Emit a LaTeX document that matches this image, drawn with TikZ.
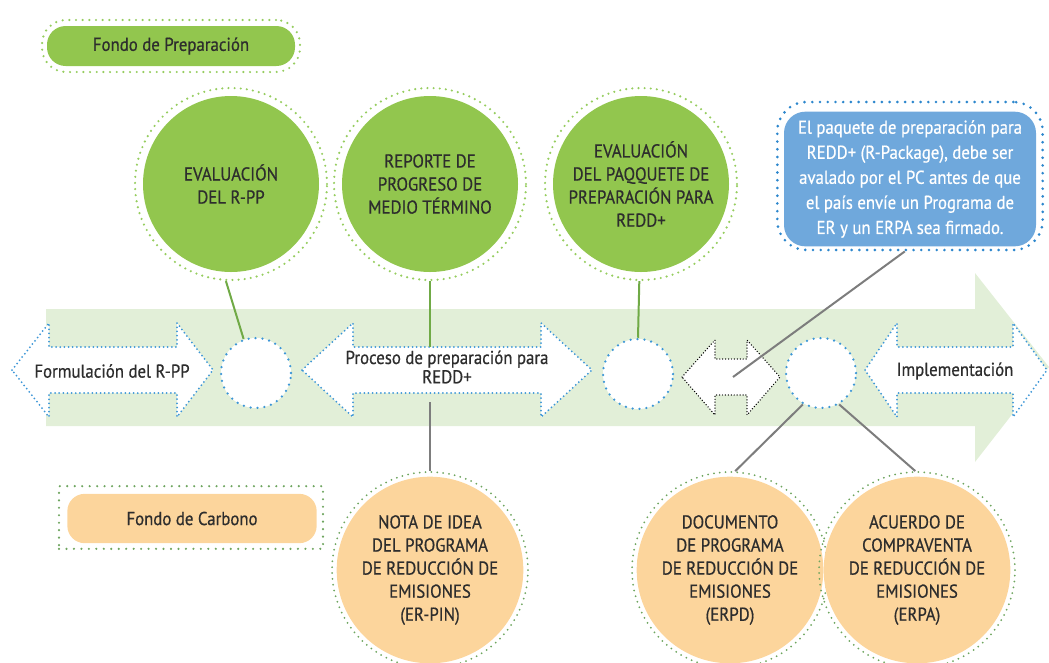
\documentclass[tikz,border=0pt]{standalone}
\usepackage{fontspec}
\setmainfont{PT Sans}[FakeStretch=0.9, FakeBold=0.6]
\definecolor{band}{RGB}{226,239,216}
\definecolor{gfill}{RGB}{146,198,78}
\definecolor{gdots}{RGB}{150,205,95}
\definecolor{ofill}{RGB}{252,213,156}
\definecolor{odots}{RGB}{110,165,95}
\definecolor{bfill}{RGB}{111,168,220}
\definecolor{bdots}{RGB}{45,135,205}
\definecolor{adots}{RGB}{60,150,215}
\definecolor{txtc}{RGB}{45,45,45}
\definecolor{gconn}{RGB}{112,170,70}
\definecolor{kconn}{RGB}{125,125,125}
\tikzset{
  txt/.style={text=txtc, font=\fontsize{14}{17.3}\selectfont, align=center, inner sep=0pt},
  gcirc/.style={circle, fill=gfill, minimum size=132pt, txt},
  gring/.style={circle, draw=gdots, line width=1.8pt, dash pattern=on 0pt off 4.6pt, line cap=round, minimum size=144pt, inner sep=0pt},
  ocirc/.style={circle, fill=ofill, minimum size=140pt, txt},
  oring/.style={circle, draw=odots, line width=1.5pt, dash pattern=on 0pt off 4.4pt, line cap=round, minimum size=147pt, inner sep=0pt},
  scirc/.style={circle, fill=white, draw=adots, line width=1.9pt, dash pattern=on 0pt off 5.2pt, line cap=round, minimum size=52.5pt, inner sep=0pt},
  barrow/.style={fill=white, draw=adots, line width=1.5pt, dash pattern=on 0pt off 3.1pt, line cap=round},
  karrow/.style={fill=white, draw=black, line width=1.1pt, dash pattern=on 0pt off 2.2pt, line cap=round},
  gline/.style={draw=gconn, line width=1.5pt},
  kline/.style={draw=kconn, line width=1.5pt},
}
\begin{document}
\begin{tikzpicture}[x=0.75pt,y=-0.75pt]
\useasboundingbox (0,0) rectangle (1049,662);
% big band arrow
\fill[band] (46,309) -- (975,309) -- (975,273) -- (1049,367) -- (975,462) -- (975,426) -- (46,426) -- cycle;

% fondo de preparacion
\node[draw=gdots, line width=1.8pt, dash pattern=on 0pt off 5pt, line cap=round, rounded corners=18pt, minimum width=193.5pt, minimum height=39pt] (fpring) at (171,46) {};
\node[fill=gfill, rounded corners=14pt, minimum width=186pt, minimum height=30pt, txt] (fp) at (171,46) {Fondo de Preparación};

% fondo de carbono
\node[draw=odots, line width=1.8pt, dash pattern=on 0pt off 5.6pt, line cap=round, minimum width=198pt, minimum height=47pt] (fcring) at (191,517.5) {};
\node[fill=ofill, rounded corners=13pt, minimum width=187pt, minimum height=37pt, txt] (fc) at (192,518.5) {Fondo de Carbono};

% dotted double arrows
\draw[barrow] (12,370) -- (49,323) -- (49,347) -- (177,347) -- (177,323) -- (213,370) -- (177,417) -- (177,393) -- (49,393) -- (49,417) -- cycle;
\node[txt] (formul) at (112,371) {Formulación del R-PP};
\draw[barrow] (302,370) -- (353,323) -- (353,347) -- (541,347) -- (541,323) -- (592,370) -- (541,417) -- (541,393) -- (353,393) -- (353,417) -- cycle;
\node[txt, font=\fontsize{14}{14.5}\selectfont] (proceso) at (447,367) {Proceso de preparación para\\REDD+};
\draw[barrow] (865,370) -- (897,323) -- (897,347) -- (1013,347) -- (1013,323) -- (1047,370) -- (1013,417) -- (1013,393) -- (897,393) -- (897,417) -- cycle;
\node[txt] (implem) at (955,371) {Implementación};
\draw[karrow] (682,377) -- (715,340) -- (715,359) -- (747,359) -- (747,340) -- (780,377) -- (747,415) -- (747,395) -- (715,395) -- (715,415) -- cycle;

% small circles
\node[scirc] (c1) at (256,373) {};
\node[scirc] (c2) at (638,374) {};
\node[scirc] (c3) at (821,373) {};

% green circles
\node[gring] (gar) at (231,184) {};
\node[gcirc] (ga) at (231,184) {EVALUACIÓN\\DEL R-PP};
\node[gring] (gbr) at (430,184) {};
\node[gcirc] (gb) at (430,184) {REPORTE DE\\PROGRESO DE\\MEDIO TÉRMINO};
\node[gring] (gcr) at (641,184) {};
\node[gcirc] (gc) at (641,184) {EVALUACIÓN\\DEL PAQQUETE DE\\PREPARACIÓN PARA\\REDD+};

% info box
\node[draw=bdots, line width=2.2pt, dash pattern=on 0pt off 5.8pt, line cap=round, rounded corners=22pt, minimum width=199pt, minimum height=111pt] (inforing) at (910,176) {};
\node[fill=bfill, rounded corners=16pt, minimum width=189pt, minimum height=101pt, text=white, font=\fontsize{14}{18.8}\selectfont, align=center, inner sep=0pt] (info) at (910,179) {El paquete de preparación para\\REDD+ (R-Package), debe ser\\avalado por el PC antes de que\\el país envíe un Programa de\\ER y un ERPA sea firmado.};

% orange circles
\node[oring] (nar) at (430,570) {};
\node[ocirc] (na) at (430,570) {NOTA DE IDEA\\DEL PROGRAMA\\DE REDUCCIÓN DE\\EMISIONES\\(ER-PIN)};
\node[oring] (dor) at (730,570) {};
\node[ocirc] (do) at (730,570) {DOCUMENTO\\DE PROGRAMA\\DE REDUCCIÓN DE\\EMISIONES\\(ERPD)};
\node[oring] (acr) at (917,570) {};
\node[ocirc] (ac) at (917,570) {ACUERDO DE\\COMPRAVENTA\\DE REDUCCIÓN DE\\EMISIONES\\(ERPA)};

% connectors
\coordinate (pTop) at (430,347);
\coordinate (pBot) at (430,402);
\coordinate (kMid) at (733,377);
\draw[gline] (gar.-93) -- (c1.110);
\draw[gline] (gbr.south) -- (pTop);
\draw[gline] (gcr.-91) -- (c2.north);
\draw[kline] (pBot) -- (nar.north);
\draw[kline] (inforing.-94) -- (kMid);
\draw[kline] (c3.-120) -- (dor.87);
\draw[kline] (c3.-60) -- (acr.91);
\end{tikzpicture}
\end{document}
